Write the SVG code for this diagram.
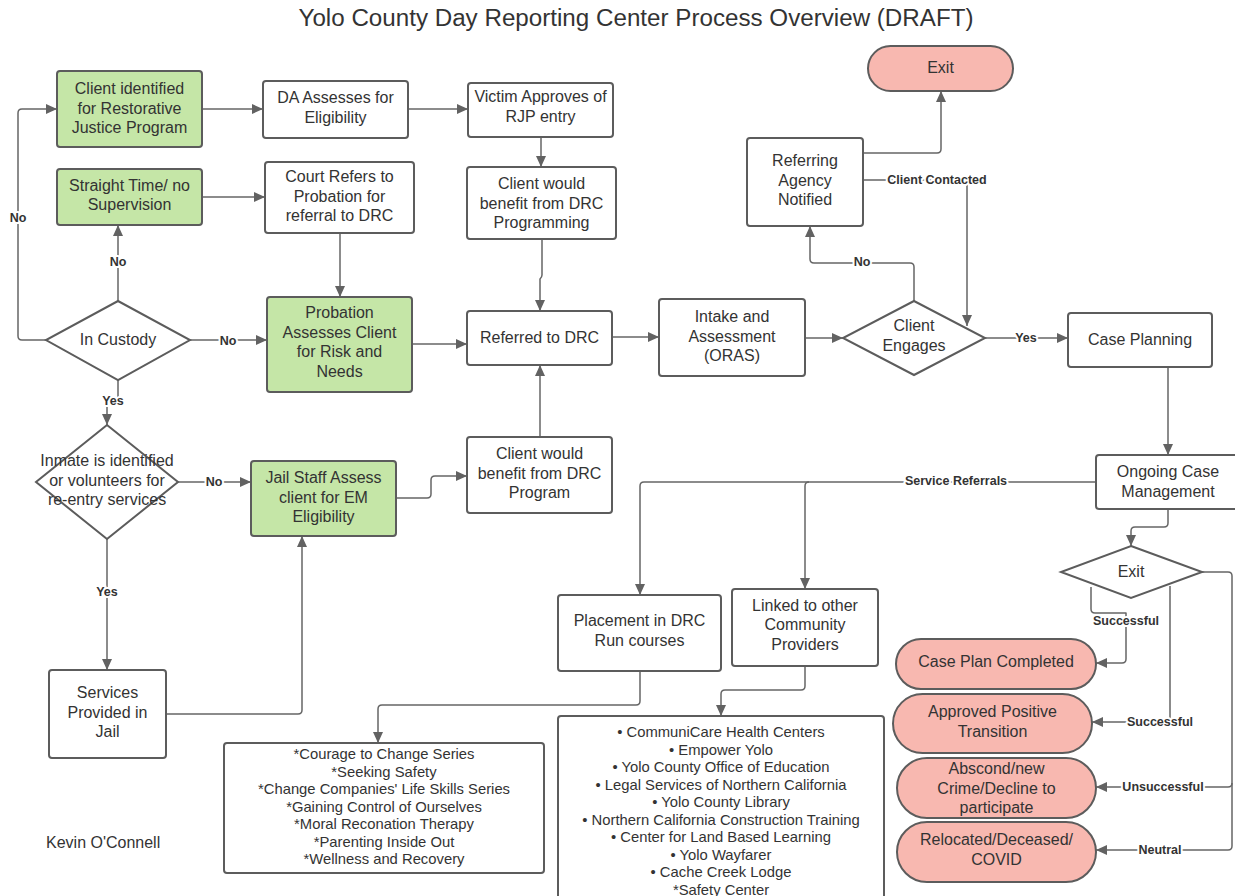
<svg xmlns="http://www.w3.org/2000/svg" width="1235" height="896" viewBox="0 0 1235 896">
<defs>
<marker id="arr" markerUnits="userSpaceOnUse" markerWidth="11" markerHeight="10" refX="11" refY="5" orient="auto">
<path d="M0,0 L11,5 L0,10 z" fill="#626262"/>
</marker>
<style>
.box{fill:#ffffff;stroke:#5c5c5c;stroke-width:2}
.green{fill:#c5e6a7;stroke:#5c5c5c;stroke-width:2}
.pink{fill:#f8b8b0;stroke:#5c5c5c;stroke-width:2}
.t{font-family:"Liberation Sans",Arial,sans-serif;font-size:16px;fill:#333333;text-anchor:middle}
.s{font-family:"Liberation Sans",Arial,sans-serif;font-size:14.8px;fill:#333333;text-anchor:middle}
.c{fill:none;stroke:#666666;stroke-width:1.5;stroke-linejoin:round}
.lbl{font-family:"Liberation Sans",Arial,sans-serif;font-size:12.5px;font-weight:bold;fill:#333333;text-anchor:middle;stroke:#ffffff;stroke-width:4;paint-order:stroke;stroke-linejoin:round}
.title{font-family:"Liberation Sans",Arial,sans-serif;font-size:23px;fill:#333333;text-anchor:middle}
</style>
</defs>
<rect width="1235" height="896" fill="#ffffff"/>
<text class="title" x="636" y="26" textLength="675" lengthAdjust="spacingAndGlyphs">Yolo County Day Reporting Center Process Overview (DRAFT)</text>

<g id="connectors">
<path class="c" d="M46,340 H22 Q18,340 18,336 V113 Q18,109 22,109 H57" marker-end="url(#arr)"/>
<path class="c" d="M118,301 V225" marker-end="url(#arr)"/>
<path class="c" d="M190,340 H267" marker-end="url(#arr)"/>
<path class="c" d="M118,380 V401 H107 V425" marker-end="url(#arr)"/>
<path class="c" d="M202,109 H263" marker-end="url(#arr)"/>
<path class="c" d="M408,109 H468" marker-end="url(#arr)"/>
<path class="c" d="M541,137 V167" marker-end="url(#arr)"/>
<path class="c" d="M202,197 H265" marker-end="url(#arr)"/>
<path class="c" d="M340,233 V297" marker-end="url(#arr)"/>
<path class="c" d="M542,239 V275 Q542,277 540,279 V311" marker-end="url(#arr)"/>
<path class="c" d="M412,344 H467" marker-end="url(#arr)"/>
<path class="c" d="M612,337 H659" marker-end="url(#arr)"/>
<path class="c" d="M805,338 H843" marker-end="url(#arr)"/>
<path class="c" d="M914,301 V267 Q914,263 910,263 H814 Q810,263 810,259 V226" marker-end="url(#arr)"/>
<path class="c" d="M985,338 H1068" marker-end="url(#arr)"/>
<path class="c" d="M863,153 H937 Q941,153 941,149 V91" marker-end="url(#arr)"/>
<path class="c" d="M863,180 H967 V326" marker-end="url(#arr)"/>
<path class="c" d="M1168,367 V455" marker-end="url(#arr)"/>
<path class="c" d="M1096,482 H644 Q640,482 640,486 V595" marker-end="url(#arr)"/>
<path class="c" d="M809,482 Q805,482 805,486 V589" marker-end="url(#arr)"/>
<path class="c" d="M1168,509 V523 Q1168,527 1164,527 H1135 Q1131,527 1131,531 V546" marker-end="url(#arr)"/>
<path class="c" d="M1091,587 V609 Q1091,613 1095,613 H1126 V659 Q1126,663 1122,663 H1096" marker-end="url(#arr)"/>
<path class="c" d="M1170,586 V722 H1092" marker-end="url(#arr)"/>
<path class="c" d="M1202,572 H1228 Q1232,572 1232,576 V846 Q1232,850 1228,850 H1096" marker-end="url(#arr)"/>
<path class="c" d="M1232,783 Q1232,787 1228,787 H1096" marker-end="url(#arr)"/>
<path class="c" d="M640,671 V701 Q640,705 636,705 H382 Q378,705 378,709 V743" marker-end="url(#arr)"/>
<path class="c" d="M805,666 V686 Q805,690 801,690 H725 Q721,690 721,694 V716" marker-end="url(#arr)"/>
<path class="c" d="M178,482 H251" marker-end="url(#arr)"/>
<path class="c" d="M107,539 V670" marker-end="url(#arr)"/>
<path class="c" d="M166,714 H298 Q302,714 302,710 V536" marker-end="url(#arr)"/>
<path class="c" d="M396,498 H427 Q431,498 431,494 V480 Q431,476 435,476 H467" marker-end="url(#arr)"/>
<path class="c" d="M540,437 V365" marker-end="url(#arr)"/>
<text class="lbl" x="18" y="222">No</text>
<text class="lbl" x="118" y="266">No</text>
<text class="lbl" x="228" y="345">No</text>
<text class="lbl" x="113" y="405">Yes</text>
<text class="lbl" x="214" y="486">No</text>
<text class="lbl" x="107" y="596">Yes</text>
<text class="lbl" x="862" y="266">No</text>
<text class="lbl" x="1026" y="342">Yes</text>
<text class="lbl" x="937" y="184">Client Contacted</text>
<text class="lbl" x="956" y="485">Service Referrals</text>
<text class="lbl" x="1126" y="625">Successful</text>
<text class="lbl" x="1160" y="726">Successful</text>
<text class="lbl" x="1163" y="791">Unsuccessful</text>
<text class="lbl" x="1160" y="854">Neutral</text>
</g>

<g id="n-rjp"><rect class="green" x="57" y="71" width="145" height="76" rx="3"/>
<text class="t" x="129.5" y="94">Client identified</text><text class="t" x="129.5" y="113.5">for Restorative</text><text class="t" x="129.5" y="133">Justice Program</text></g>
<g id="n-da"><rect class="box" x="263" y="81" width="145" height="57" rx="3"/>
<text class="t" x="335.5" y="103">DA Assesses for</text><text class="t" x="335.5" y="122.5">Eligibility</text></g>
<g id="n-victim"><rect class="box" x="468" y="83" width="145" height="54" rx="3"/>
<text class="t" x="540.5" y="102">Victim Approves of</text><text class="t" x="540.5" y="121.5">RJP entry</text></g>
<g id="n-straight"><rect class="green" x="57" y="169" width="145" height="56" rx="3"/>
<text class="t" x="129.5" y="190.5">Straight Time/ no</text><text class="t" x="129.5" y="210">Supervision</text></g>
<g id="n-court"><rect class="box" x="265" y="162" width="149" height="71" rx="3"/>
<text class="t" x="339.5" y="182">Court Refers to</text><text class="t" x="339.5" y="201.5">Probation for</text><text class="t" x="339.5" y="221">referral to DRC</text></g>
<g id="n-benefit1"><rect class="box" x="467" y="167" width="149" height="72" rx="3"/>
<text class="t" x="541.5" y="189">Client would</text><text class="t" x="541.5" y="208.5">benefit from DRC</text><text class="t" x="541.5" y="228">Programming</text></g>
<g id="n-custody"><polygon class="box" points="118,301 190,340 118,380 46,340"/>
<text class="t" x="118" y="345">In Custody</text></g>
<g id="n-probation"><rect class="green" x="267" y="297" width="145" height="95" rx="3"/>
<text class="t" x="339.5" y="318">Probation</text><text class="t" x="339.5" y="337.5">Assesses Client</text><text class="t" x="339.5" y="357">for Risk and</text><text class="t" x="339.5" y="376.5">Needs</text></g>
<g id="n-referred"><rect class="box" x="467" y="311" width="145" height="54" rx="3"/>
<text class="t" x="539.5" y="343">Referred to DRC</text></g>
<g id="n-intake"><rect class="box" x="659" y="299" width="146" height="77" rx="3"/>
<text class="t" x="732" y="322">Intake and</text><text class="t" x="732" y="341.5">Assessment</text><text class="t" x="732" y="361">(ORAS)</text></g>
<g id="n-referring"><rect class="box" x="747" y="138" width="116" height="88" rx="3"/>
<text class="t" x="805" y="166">Referring</text><text class="t" x="805" y="185.5">Agency</text><text class="t" x="805" y="205">Notified</text></g>
<g id="n-exit1"><rect class="pink" x="868" y="46" width="145" height="45" rx="22.5"/>
<text class="t" x="940.5" y="73">Exit</text></g>
<g id="n-engages"><polygon class="box" points="914,301 985,338 914,375 843,338"/>
<text class="t" x="914" y="331">Client</text><text class="t" x="914" y="350.5">Engages</text></g>
<g id="n-caseplan"><rect class="box" x="1068" y="313" width="144" height="54" rx="3"/>
<text class="t" x="1140" y="345">Case Planning</text></g>
<g id="n-inmate"><polygon class="box" points="107,425 178,482 107,539 36,482"/>
<text class="t" x="107" y="466">Inmate is identified</text><text class="t" x="107" y="485.5">or volunteers  for</text><text class="t" x="107" y="505">re-entry services</text></g>
<g id="n-jail"><rect class="green" x="251" y="461" width="145" height="75" rx="3"/>
<text class="t" x="323.5" y="483">Jail Staff Assess</text><text class="t" x="323.5" y="502.5">client for EM</text><text class="t" x="323.5" y="522">Eligibility</text></g>
<g id="n-services"><rect class="box" x="49" y="670" width="117" height="88" rx="3"/>
<text class="t" x="107.5" y="698">Services</text><text class="t" x="107.5" y="717.5">Provided in</text><text class="t" x="107.5" y="737">Jail</text></g>
<g id="n-benefit2"><rect class="box" x="467" y="437" width="145" height="76" rx="3"/>
<text class="t" x="539.5" y="459">Client would</text><text class="t" x="539.5" y="478.5">benefit from DRC</text><text class="t" x="539.5" y="498">Program</text></g>
<g id="n-ongoing"><rect class="box" x="1096" y="455" width="145" height="54" rx="3"/>
<text class="t" x="1168" y="477">Ongoing Case</text><text class="t" x="1168" y="496.5">Management</text></g>
<g id="n-exit2"><polygon class="box" points="1131,546 1202,572 1131,598 1061,572"/>
<text class="t" x="1131" y="577">Exit</text></g>
<g id="n-placement"><rect class="box" x="558" y="595" width="163" height="76" rx="3"/>
<text class="t" x="639.5" y="626">Placement in DRC</text><text class="t" x="639.5" y="645.5">Run courses</text></g>
<g id="n-linked"><rect class="box" x="732" y="589" width="146" height="77" rx="3"/>
<text class="t" x="805" y="610.5">Linked to other</text><text class="t" x="805" y="630">Community</text><text class="t" x="805" y="649.5">Providers</text></g>
<g id="n-completed"><rect class="pink" x="896" y="639" width="200" height="50" rx="25"/>
<text class="t" x="996" y="667">Case Plan Completed</text></g>
<g id="n-approved"><rect class="pink" x="893" y="694" width="199" height="59" rx="29.5"/>
<text class="t" x="992.5" y="717">Approved Positive</text><text class="t" x="992.5" y="736.5">Transition</text></g>
<g id="n-abscond"><rect class="pink" x="897" y="758" width="199" height="60" rx="30"/>
<text class="t" x="996.5" y="774">Abscond/new</text><text class="t" x="996.5" y="793.5">Crime/Decline to</text><text class="t" x="996.5" y="813">participate</text></g>
<g id="n-relocated"><rect class="pink" x="897" y="822" width="199" height="60" rx="30"/>
<text class="t" x="996.5" y="845">Relocated/Deceased/</text><text class="t" x="996.5" y="864.5">COVID</text></g>
<g id="n-courses"><rect class="box" x="224" y="743" width="320" height="130" rx="3"/>
<text class="s" x="384" y="759">*Courage to Change Series</text>
<text class="s" x="384" y="776.5">*Seeking Safety</text>
<text class="s" x="384" y="794">*Change Companies' Life Skills Series</text>
<text class="s" x="384" y="811.5">*Gaining Control of Ourselves</text>
<text class="s" x="384" y="829">*Moral Reconation Therapy</text>
<text class="s" x="384" y="846.5">*Parenting Inside Out</text>
<text class="s" x="384" y="864">*Wellness and Recovery</text></g>
<g id="n-community"><rect class="box" x="558" y="716" width="326" height="190" rx="3"/>
<text class="s" x="721" y="737">• CommuniCare Health Centers</text>
<text class="s" x="721" y="754.5">• Empower Yolo</text>
<text class="s" x="721" y="772">• Yolo County Office of Education</text>
<text class="s" x="721" y="789.5">• Legal Services of Northern California</text>
<text class="s" x="721" y="807">• Yolo County Library</text>
<text class="s" x="721" y="824.5">• Northern California Construction Training</text>
<text class="s" x="721" y="842">• Center for Land Based Learning</text>
<text class="s" x="721" y="859.5">• Yolo Wayfarer</text>
<text class="s" x="721" y="877">• Cache Creek Lodge</text>
<text class="s" x="721" y="894.5">*Safety Center</text></g>
<text x="46" y="848" style="font-family:'Liberation Sans',Arial,sans-serif;font-size:16px;fill:#333333">Kevin O'Connell</text>
</svg>
